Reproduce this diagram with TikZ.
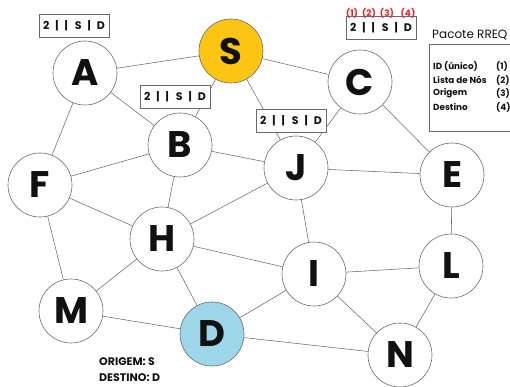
\documentclass[tikz,border=0pt]{standalone}
\usepackage{fontspec}
\setmainfont{Poppins}
\usepackage{tikz}
\usetikzlibrary{positioning,backgrounds}
\definecolor{ink}      {HTML}{111111}
\definecolor{edgegray} {HTML}{6A6A6A}
\definecolor{srcfill}  {HTML}{FDC513}
\definecolor{dstfill}  {HTML}{9CD6E8}
\definecolor{tagred}   {HTML}{E8252A}
\newcommand{\rreq}{2\hspace{6pt}|\hspace{6pt}|\hspace{7pt}S\hspace{6pt}|\hspace{6pt}D}
\tikzset{
  every node/.style={text=ink},
  % --- nodes
  host/.style  = {circle, draw=edgegray, line width=0.6pt, fill=white, minimum size=64pt,
                  inner sep=0pt, font=\fontsize{37}{37}\selectfont\bfseries},
  src/.style   = {host, fill=srcfill},
  dst/.style   = {host, fill=dstfill},
  pkt/.style   = {draw=edgegray, fill=white, line width=0.6pt, minimum width=70pt,
                  minimum height=23pt, inner sep=0pt, font=\fontsize{11}{11}\selectfont\bfseries},
  tag/.style   = {font=\fontsize{9}{9}\selectfont\bfseries, text=tagred, inner sep=0pt},
  leg/.style   = {font=\fontsize{8.8}{8.8}\selectfont\bfseries, anchor=west, inner sep=0pt},
  note/.style  = {font=\fontsize{11}{11}\selectfont\bfseries, anchor=west, inner sep=0pt},
  % --- edges
  link/.style  = {draw=edgegray, line width=0.55pt},
}
\begin{document}
\begin{tikzpicture}[x=1pt,y=1pt]
  \useasboundingbox (0,0) rectangle (510,-387);
  \node[host] (A) at (85,-73)  {A};
  \node[src]  (S) at (231,-51) {S};
  \node[host] (C) at (360,-82) {C};
  \node[host] (B) at (180,-145) {B};
  \node[host] (J) at (296,-168) {J};
  \node[host] (E) at (452,-175) {E};
  \node[host] (F) at (40,-185)  {F};
  \node[host] (H) at (162,-239) {H};
  \node[host] (I) at (314,-274) {I};
  \node[host] (L) at (451,-266) {L};
  \node[host] (M) at (71,-311)  {M};
  \node[dst]  (D) at (212,-334) {D};
  \node[host] (N) at (400,-355) {N};
  \begin{scope}[on background layer]
    \foreach \u/\v in {A/S,A/B,A/F,S/B,S/J,S/C,C/J,C/E,B/F,B/J,B/H,J/E,J/H,J/I,
                       E/L,F/H,F/M,H/I,H/M,H/D,I/L,I/D,I/N,L/N,M/D,D/N}
      \draw[link] (\u) -- (\v);
  \end{scope}
  % packet copies
  \node[pkt] (pa) at (74,-26)  {\rreq};
  \node[pkt] (pb) at (175,-97) {\rreq};
  \node[pkt] (pj) at (291,-121) {\rreq};
  \node[pkt] (pc) at (381,-28) {\rreq};
  \node[tag] (t1) at (352,-13) {(1)};
  \node[tag] (t2) at (369,-13) {(2)};
  \node[tag] (t3) at (387,-13) {(3)};
  \node[tag] (t4) at (408,-13) {(4)};
  % legend
  \node[font=\fontsize{12}{12}\selectfont, anchor=west, inner sep=0pt] (ttl) at (432,-35) {Pacote RREQ};
  \node[draw=edgegray, line width=0.6pt, minimum width=86pt, minimum height=87pt,
        anchor=north west, inner sep=0pt] (box) at (429,-44) {};
  \node[leg] (l1) at (433,-66) {ID (único)};
  \node[leg] (l2) at (433,-80) {Lista de Nós};
  \node[leg] (l3) at (433,-93) {Origem};
  \node[leg] (l4) at (433,-107) {Destino};
  \node[leg] (n1) at (496,-66) {(1)};
  \node[leg] (n2) at (496,-80) {(2)};
  \node[leg] (n3) at (496,-93) {(3)};
  \node[leg] (n4) at (496,-107) {(4)};
  \node[note] (org) at (99,-362) {ORIGEM: S};
  \node[note] (dsn) at (99,-378) {DESTINO: D};
\end{tikzpicture}
\end{document}
